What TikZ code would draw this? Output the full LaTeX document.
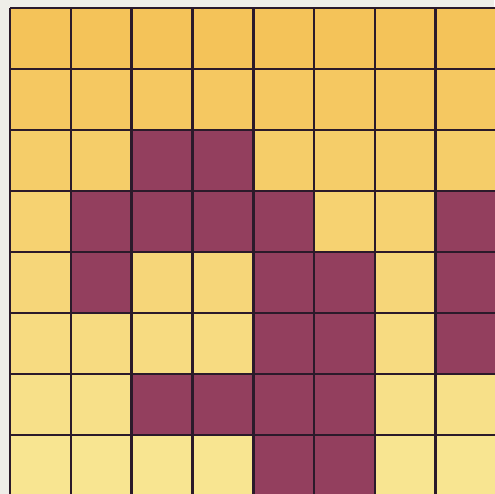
\documentclass[tikz,border=0pt]{standalone}
\usepackage{tikz}
\definecolor{bgpaper}{HTML}{EFEEE8}
\definecolor{ytop}{HTML}{F4C359}
\definecolor{ybot}{HTML}{F8E591}
\definecolor{maroon}{HTML}{933F5E}
\definecolor{gridline}{HTML}{2B1A2A}
\tikzset{gridstroke/.style={draw=gridline,line width=2.6pt}}
\begin{document}
\begin{tikzpicture}[x=1pt,y=-1pt]
\useasboundingbox (0,0) rectangle (494,494);
\fill[bgpaper] (0,0) rectangle (494,494);
\def\cw{60.8}
\def\ch{61}
% pattern rows: 1 = maroon
\foreach \r/\rowpat in {0/{0,0,0,0,0,0,0,0},1/{0,0,0,0,0,0,0,0},2/{0,0,1,1,0,0,0,0},3/{0,1,1,1,1,0,0,1},4/{0,1,0,0,1,1,0,1},5/{0,0,0,0,1,1,0,1},6/{0,0,1,1,1,1,0,0},7/{0,0,0,0,1,1,0,0}}{
  \pgfmathsetmacro{\mixp}{100-\r*100/7}
  \colorlet{rowyellow}{ytop!\mixp!ybot}
  \foreach \v [count=\c from 0] in \rowpat {
    \ifnum\v=1
      \fill[maroon] ({10+\c*\cw},{8+\r*\ch}) rectangle ++(\cw,\ch);
    \else
      \fill[rowyellow] ({10+\c*\cw},{8+\r*\ch}) rectangle ++(\cw,\ch);
    \fi
  }
}
\foreach \i in {0,...,8} {
  \draw[gridstroke] ({10+\i*\cw},8) -- ({10+\i*\cw},500);
  \draw[gridstroke] (10,{8+\i*\ch}) -- (500,{8+\i*\ch});
}
\end{tikzpicture}
\end{document}
